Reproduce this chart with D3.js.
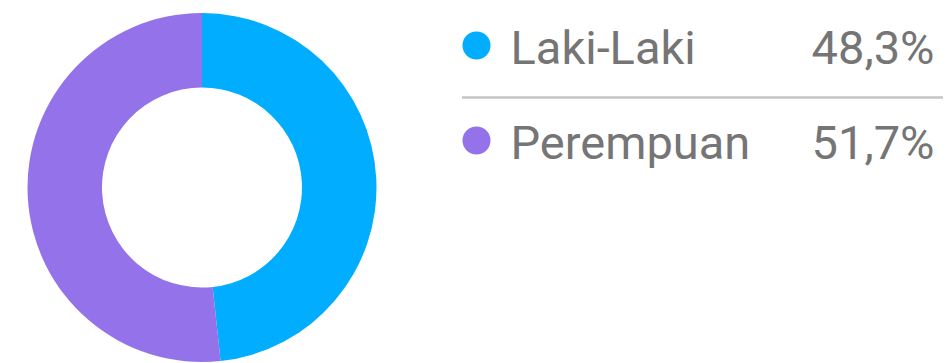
<!DOCTYPE html>
<html>
<head>
<meta charset="utf-8">
<script src="https://cdn.jsdelivr.net/npm/d3@7"></script>
<style>
  html, body { margin: 0; padding: 0; background: #fff; }
  svg { display: block; }
  text { font-family: Roboto, "Noto Sans", sans-serif; fill: #757575; }
</style>
</head>
<body>
<svg width="949" height="363"></svg>
<script>
const width = 949;
const height = 363;
const svg = d3.select("svg");

const labels = ["Laki-Laki", "Perempuan"];
const values = [48.3, 51.7];
const valueLabels = ["48,3%", "51,7%"];
const colors = ["#00adfe", "#9473ea"];

const cx = 202, cy = 187.5;
const outerR = 174.5, innerR = 100;

const pie = d3.pie().sort(null).value(d => d);
const arc = d3.arc().innerRadius(innerR).outerRadius(outerR);

svg.append("g")
    .attr("transform", `translate(${cx},${cy})`)
    .selectAll("path")
    .data(pie(values))
    .enter()
    .append("path")
    .attr("d", arc)
    .attr("fill", (d, i) => colors[i]);

// legend
const rowY = d3.scalePoint().domain(labels).range([64, 159]);

const legend = svg.append("g");

legend.append("line")
    .attr("x1", 462)
    .attr("x2", 943)
    .attr("y1", 97.5)
    .attr("y2", 97.5)
    .attr("stroke", "#c4c4c4")
    .attr("stroke-width", 2.5);

labels.forEach((name, i) => {
    const y = rowY(name);
    legend.append("circle")
        .attr("cx", 476.5)
        .attr("cy", y - 18.5)
        .attr("r", 14)
        .attr("fill", colors[i]);
    legend.append("text")
        .attr("x", 510.5)
        .attr("y", y)
        .attr("font-size", 47)
        .text(name);
    legend.append("text")
        .attr("x", 934.5)
        .attr("y", y)
        .attr("font-size", 47)
        .attr("text-anchor", "end")
        .text(valueLabels[i]);
});
</script>
</body>
</html>
